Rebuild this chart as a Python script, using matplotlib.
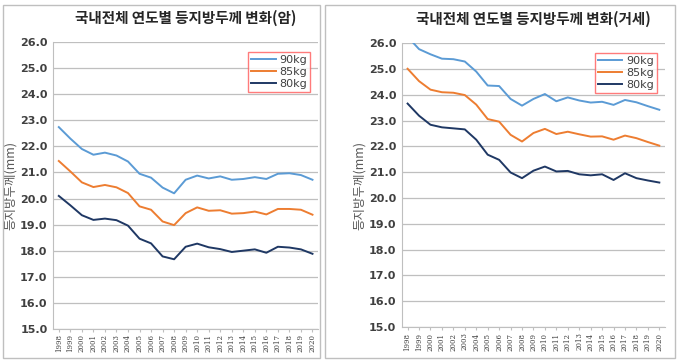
import numpy as np
import matplotlib.pyplot as plt
from matplotlib.patches import Rectangle

plt.rcParams['font.family'] = ['Noto Sans CJK KR', 'DejaVu Sans']

years = [str(y) for y in range(1998, 2021)]

# 암 (sow)
f_90 = [22.74, 22.30, 21.90, 21.68, 21.76, 21.65, 21.42, 20.95, 20.80, 20.42, 20.20, 20.72,
        20.88, 20.77, 20.85, 20.72, 20.75, 20.82, 20.75, 20.95, 20.97, 20.90, 20.72]
f_85 = [21.44, 21.04, 20.62, 20.44, 20.52, 20.43, 20.21, 19.70, 19.57, 19.12, 18.98, 19.44,
        19.66, 19.53, 19.55, 19.42, 19.44, 19.50, 19.39, 19.60, 19.60, 19.57, 19.38]
f_80 = [20.10, 19.74, 19.36, 19.18, 19.23, 19.17, 18.96, 18.46, 18.28, 17.78, 17.67, 18.15,
        18.27, 18.13, 18.06, 17.95, 18.00, 18.05, 17.92, 18.15, 18.12, 18.05, 17.88]

# 거세 (barrow)
m_90 = [26.25, 25.77, 25.57, 25.40, 25.38, 25.29, 24.90, 24.36, 24.34, 23.84, 23.58, 23.84,
        24.03, 23.75, 23.90, 23.78, 23.70, 23.73, 23.61, 23.80, 23.71, 23.56, 23.42]
m_85 = [25.01, 24.53, 24.20, 24.10, 24.08, 23.99, 23.62, 23.06, 22.96, 22.45, 22.19, 22.52,
        22.68, 22.48, 22.57, 22.47, 22.38, 22.39, 22.26, 22.42, 22.32, 22.17, 22.03]
m_80 = [23.66, 23.19, 22.84, 22.74, 22.70, 22.66, 22.26, 21.68, 21.48, 20.99, 20.77, 21.06,
        21.22, 21.03, 21.05, 20.92, 20.88, 20.92, 20.70, 20.96, 20.77, 20.68, 20.60]

labels = ['90kg', '85kg', '80kg']
colors = ['#5B9BD5', '#ED7D31', '#1F3864']
titles = ['국내전체 연도별 등지방두께 변화(암)', '국내전체 연도별 등지방두께 변화(거세)']
yticks = np.arange(15, 26.5, 1.0)

fig = plt.figure(figsize=(6.8, 3.63), dpi=100)

# panel frames
for x0, w in [(0.005, 0.465), (0.478, 0.515)]:
    fig.patches.append(Rectangle((x0, 0.015), w, 0.97, transform=fig.transFigure,
                                 fill=False, edgecolor='#BFBFBF', linewidth=1.0))

axes_pos = [[0.078, 0.094, 0.39, 0.790], [0.591, 0.099, 0.387, 0.782]]
data = [[f_90, f_85, f_80], [m_90, m_85, m_80]]

for pos, series, title in zip(axes_pos, data, titles):
    ax = fig.add_axes(pos)
    x = np.arange(len(years))
    for s, lab, c in zip(series, labels, colors):
        ax.plot(x, s, color=c, linewidth=1.4, label=lab)
    ax.set_xlim(-0.5, len(years) - 0.5)
    ax.set_ylim(15, 26)
    ax.set_yticks(yticks)
    ax.set_yticklabels(['%.1f' % v for v in yticks], fontsize=8, color='#404040',
                       fontweight='bold', family='DejaVu Sans')
    ax.set_xticks(x)
    ax.set_xticklabels(years, rotation=90, fontsize=5, family='DejaVu Serif', color='#404040')
    ax.grid(axis='y', color='#BFBFBF', linewidth=0.9)
    ax.set_axisbelow(True)
    for sp in ['top', 'right']:
        ax.spines[sp].set_visible(False)
    ax.spines['left'].set_color('#BFBFBF')
    ax.spines['bottom'].set_color('#BFBFBF')
    ax.tick_params(axis='y', length=0, pad=4)
    ax.tick_params(axis='x', length=2, color='#BFBFBF', pad=2)
    ax.set_ylabel('등지방두께(mm)', fontsize=9, color='#595959', labelpad=2)
    ax.set_title(title, fontsize=10.5, fontweight='bold', color='#262626', pad=14)
    leg = ax.legend(loc='upper right', bbox_to_anchor=(0.99, 0.985), fontsize=8,
                    frameon=True, fancybox=False, handlelength=2.2, borderpad=0.3,
                    labelspacing=0.15, handletextpad=0.3, prop={'family': 'DejaVu Sans', 'size': 8})
    leg.get_frame().set_edgecolor('#FF5A5A')
    leg.get_frame().set_linewidth(1.0)
    for t in leg.get_texts():
        t.set_color('#404040')

fig.savefig('out.png', dpi=100)
